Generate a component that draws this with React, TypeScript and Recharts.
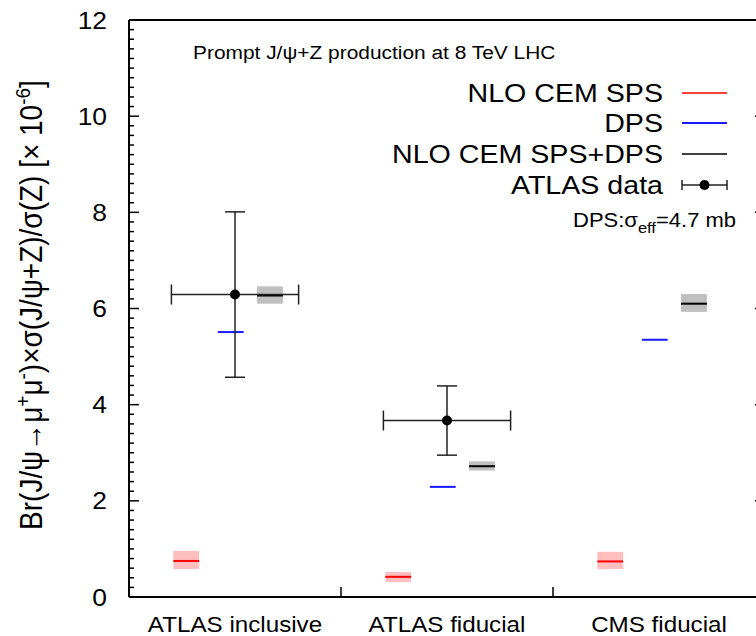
import React from 'react';
import {
  ComposedChart,
  XAxis,
  YAxis,
  Scatter,
  ErrorBar,
  ReferenceArea,
  ReferenceLine,
} from 'recharts';

// ---------------- data ----------------
const categories = ['ATLAS inclusive', 'ATLAS fiducial', 'CMS fiducial'];
const spsValue = [0.75, 0.42, 0.74];
const spsLow = [0.58, 0.31, 0.58];
const spsHigh = [0.96, 0.52, 0.94];
const dpsValue = [5.51, 2.29, 5.35];
const totalValue = [6.27, 2.72, 6.1];
const totalLow = [6.1, 2.63, 5.93];
const totalHigh = [6.46, 2.82, 6.3];
const atlasCategory = [0, 1];
const atlasValue = [6.29, 3.67];
const atlasYErr = [1.72, 0.72];
const atlasXErr = [0.3, 0.3];
const yMajorTicks = [0, 2, 4, 6, 8, 10, 12];
const Y_MINOR_STEP = 0.2;
const legendLabels = ['NLO CEM SPS', 'DPS', 'NLO CEM SPS+DPS', 'ATLAS data'];

// ---------------- layout / style ----------------
const FONT = '"Liberation Sans", Arial, Helvetica, sans-serif';
const SX = 1.1;
const CHART_W = 800;
const CHART_H = 636;
const SPS_OFF = -0.23;
const DPS_OFF = -0.02;
const TOT_OFF = 0.165;
const HALF = 0.061;
const RED = '#ff0000';
const PINK = '#ffbfbf';
const BLUE = '#1a1aff';
const GREY = '#bfbfbf';

const yTicks: number[] = [];
for (let i = 0; i <= Math.round(12 / Y_MINOR_STEP); i++) yTicks.push(+(i * Y_MINOR_STEP).toFixed(2));
const isMajor = (v: number) => yMajorTicks.some((m) => Math.abs(m - v) < 1e-6);

const scatterData = atlasCategory.map((c, i) => ({
  x: c + 0.5,
  y: atlasValue[i],
  yErr: atlasYErr[i],
  xErr: atlasXErr[i],
}));

const LeftTick = (p: any) => {
  const v = p.payload.value;
  const maj = isMajor(v);
  return (
    <g>
      <line x1={p.x} y1={p.y} x2={p.x + (maj ? 10 : 5)} y2={p.y} stroke="#000" strokeWidth={1.5} />
      {maj && (
        <text
          transform={`translate(${p.x - 22},${p.y + 8.6}) scale(${SX},1)`}
          textAnchor="end"
          fontSize={24}
          fontFamily={FONT}
          fill="#000"
        >
          {v}
        </text>
      )}
    </g>
  );
};

const RightTick = (p: any) => {
  const v = p.payload.value;
  const maj = isMajor(v);
  return <line x1={p.x} y1={p.y} x2={p.x - (maj ? 10 : 5)} y2={p.y} stroke="#000" strokeWidth={1.5} />;
};

const XTick = (p: any) => {
  const v = p.payload.value;
  if (Math.abs(v - Math.round(v)) < 1e-6) {
    return <line x1={p.x} y1={p.y} x2={p.x} y2={p.y - 10} stroke="#000" strokeWidth={1.5} />;
  }
  const idx = Math.floor(v);
  return (
    <text
      transform={`translate(${p.x},${p.y + 35}) scale(${SX},1)`}
      textAnchor="middle"
      fontSize={22}
      fontFamily={FONT}
      fill="#000"
    >
      {categories[idx]}
    </text>
  );
};

const Dot = (p: any) => <circle cx={p.cx} cy={p.cy} r={5} fill="#000" />;

export default function App() {
  const legendY = [93, 123, 154, 185];
  return (
    <div
      style={{
        position: 'absolute',
        left: 0,
        top: 0,
        width: 756,
        height: 636,
        overflow: 'hidden',
        background: '#fff',
      }}
    >
      <ComposedChart
        width={CHART_W}
        height={CHART_H}
        margin={{ top: 20, right: CHART_W - 765 - 10, bottom: 0, left: 0 }}
        style={{ fontFamily: FONT }}
      >
        <XAxis
          type="number"
          dataKey="x"
          domain={[0, 3]}
          ticks={[0.5, 1, 1.5, 2, 2.5]}
          interval={0}
          height={39}
          tickSize={0}
          tickMargin={0}
          tickLine={false}
          tick={XTick}
          axisLine={{ stroke: '#000', strokeWidth: 2 }}
          allowDataOverflow
        />
        <YAxis
          type="number"
          dataKey="y"
          domain={[0, 12]}
          ticks={yTicks}
          interval={0}
          width={129}
          tickSize={0}
          tickMargin={0}
          tickLine={false}
          tick={LeftTick}
          axisLine={{ stroke: '#000', strokeWidth: 2 }}
          allowDataOverflow
        />
        <YAxis
          yAxisId="right"
          orientation="right"
          type="number"
          domain={[0, 12]}
          ticks={yTicks}
          interval={0}
          width={10}
          tickSize={0}
          tickMargin={0}
          tickLine={false}
          tick={RightTick}
          axisLine={{ stroke: '#000', strokeWidth: 2 }}
          allowDataOverflow
        />
        <ReferenceLine y={12} stroke="#000" strokeWidth={2} />
        {categories.map((_, i) => (
          <ReferenceArea
            key={`spsb${i}`}
            x1={i + 0.5 + SPS_OFF - HALF}
            x2={i + 0.5 + SPS_OFF + HALF}
            y1={spsLow[i]}
            y2={spsHigh[i]}
            fill={PINK}
            fillOpacity={1}
            stroke="none"
          />
        ))}
        {categories.map((_, i) => (
          <ReferenceArea
            key={`totb${i}`}
            x1={i + 0.5 + TOT_OFF - HALF}
            x2={i + 0.5 + TOT_OFF + HALF}
            y1={totalLow[i]}
            y2={totalHigh[i]}
            fill={GREY}
            fillOpacity={1}
            stroke="none"
          />
        ))}
        {categories.map((_, i) => (
          <ReferenceLine
            key={`spsl${i}`}
            segment={[
              { x: i + 0.5 + SPS_OFF - HALF, y: spsValue[i] },
              { x: i + 0.5 + SPS_OFF + HALF, y: spsValue[i] },
            ]}
            stroke={RED}
            strokeWidth={2}
          />
        ))}
        {categories.map((_, i) => (
          <ReferenceLine
            key={`dpsl${i}`}
            segment={[
              { x: i + 0.5 + DPS_OFF - HALF, y: dpsValue[i] },
              { x: i + 0.5 + DPS_OFF + HALF, y: dpsValue[i] },
            ]}
            stroke={BLUE}
            strokeWidth={2}
          />
        ))}
        {categories.map((_, i) => (
          <ReferenceLine
            key={`totl${i}`}
            segment={[
              { x: i + 0.5 + TOT_OFF - HALF, y: totalValue[i] },
              { x: i + 0.5 + TOT_OFF + HALF, y: totalValue[i] },
            ]}
            stroke="#000"
            strokeWidth={2}
          />
        ))}
        <Scatter data={scatterData} dataKey="y" shape={Dot} isAnimationActive={false}>
          <ErrorBar dataKey="yErr" direction="y" width={10} stroke="#222" strokeWidth={1.5} isAnimationActive={false} />
          <ErrorBar dataKey="xErr" direction="x" width={10} stroke="#222" strokeWidth={1.5} isAnimationActive={false} />
        </Scatter>
      </ComposedChart>

      <svg
        width={756}
        height={636}
        style={{ position: 'absolute', left: 0, top: 0, pointerEvents: 'none' }}
        fontFamily={FONT}
      >
        {/* y-axis title */}
        <text
          transform={`translate(42,305) rotate(-90) scale(1,${SX})`}
          textAnchor="middle"
          fontSize={28}
          fill="#000"
        >
          Br(J/ψ→μ
          <tspan fontSize={19} dy={-11}>+</tspan>
          <tspan dy={11}>μ</tspan>
          <tspan fontSize={19} dy={-11}>-</tspan>
          <tspan dy={11}>)×σ(J/ψ+Z)/σ(Z) [× 10</tspan>
          <tspan fontSize={19} dy={-11}>-6</tspan>
          <tspan dy={11}>]</tspan>
        </text>

        {/* title */}
        <text transform={`translate(193,59) scale(${SX},1)`} fontSize={19} fill="#000">
          Prompt J/ψ+Z production at 8 TeV LHC
        </text>

        {/* legend */}
        {legendLabels.map((l, i) => (
          <text
            key={l}
            transform={`translate(663,${legendY[i] + 9.3}) scale(${SX},1)`}
            textAnchor="end"
            fontSize={26}
            fill="#000"
          >
            {l}
          </text>
        ))}
        <line x1={682} x2={727} y1={legendY[0]} y2={legendY[0]} stroke={RED} strokeWidth={1.5} />
        <line x1={682} x2={727} y1={legendY[1]} y2={legendY[1]} stroke={BLUE} strokeWidth={2} />
        <line x1={682} x2={727} y1={legendY[2]} y2={legendY[2]} stroke="#000" strokeWidth={1.5} />
        <line x1={682} x2={727} y1={legendY[3]} y2={legendY[3]} stroke="#222" strokeWidth={1.5} />
        <line x1={682} x2={682} y1={legendY[3] - 5} y2={legendY[3] + 5} stroke="#222" strokeWidth={1.5} />
        <line x1={727} x2={727} y1={legendY[3] - 5} y2={legendY[3] + 5} stroke="#222" strokeWidth={1.5} />
        <circle cx={704.5} cy={legendY[3]} r={5} fill="#000" />

        {/* annotation */}
        <text transform={`translate(573,227) scale(${SX},1)`} fontSize={20} fill="#000">
          DPS:σ
          <tspan fontSize={15} dy={6}>eff</tspan>
          <tspan dy={-6}>=4.7 mb</tspan>
        </text>
      </svg>
    </div>
  );
}
